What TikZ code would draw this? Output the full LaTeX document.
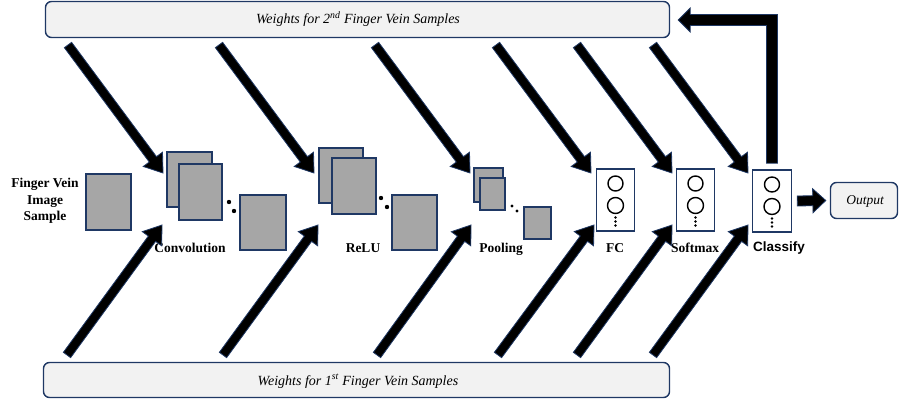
\documentclass[tikz,border=0pt]{standalone}
\usepackage{fontspec}
\setmainfont{Liberation Serif}
\newfontfamily\sansfnt{Liberation Sans}
\usetikzlibrary{calc}
\definecolor{navy}{HTML}{1F3864}
\definecolor{boxgray}{HTML}{A6A6A6}
\definecolor{wfill}{HTML}{F2F2F2}
% #1 start, #2 end, #3 half shaft, #4 half head, #5 head length
\newcommand\blockarrow[5]{%
  \coordinate (bab) at ($(#2)!#5!(#1)$);
  \filldraw[blockarr] ($(#1)!#3!90:(#2)$) -- ($(bab)!#3!90:(#2)$) -- ($(bab)!#4!90:(#2)$) -- (#2)
    -- ($(bab)!#4!-90:(#2)$) -- ($(bab)!#3!-90:(#2)$) -- ($(#1)!#3!-90:(#2)$) -- cycle;}
\begin{document}
\begin{tikzpicture}[x=1pt,y=-1pt,
  fmap/.style={draw=navy, fill=boxgray, line width=1.8pt, inner sep=0pt},
  layerbox/.style={draw=navy, fill=white, line width=1.5pt, inner sep=0pt, minimum width=38pt, minimum height=62pt},
  wbox/.style={draw=navy, fill=wfill, line width=1.4pt, rounded corners=6pt, inner sep=0pt},
  blockarr/.style={fill=black, draw=navy, line width=0.8pt, line join=miter},
  lbl/.style={font=\fontsize{13.5}{16.5}\selectfont\bfseries, anchor=base, inner sep=0pt},
  wtxt/.style={font=\fontsize{14}{16}\selectfont\itshape, anchor=base, inner sep=0pt},
  neuron/.style={draw=black, fill=white, line width=1.4pt}]
\useasboundingbox (0,0) rectangle (900,403);

% weight boxes
\node[wbox, minimum width=624pt, minimum height=36pt] (w2) at (357.5,19.5) {};
\node[wbox, minimum width=626pt, minimum height=35pt] (w1) at (356.5,380) {};
\node[wtxt] (w2t) at (358,24) {Weights for 2\textsuperscript{nd} Finger Vein Samples};
\node[wtxt] (w1t) at (358,385) {Weights for 1\textsuperscript{st} Finger Vein Samples};

% input
\node[font=\fontsize{13.5}{16.5}\selectfont\bfseries, align=center, inner sep=0pt] (inlbl) at (45,201) {Finger Vein\\Image\\Sample};
\node[fmap, minimum width=45pt, minimum height=56pt] (img) at (108.5,202) {};

% convolution
\node[fmap, minimum width=45pt, minimum height=55pt] (c1) at (189.5,179.5) {};
\node[fmap, minimum width=43pt, minimum height=56pt] (c2) at (200.5,192) {};
\node[fmap, minimum width=46pt, minimum height=55pt] (c3) at (263,222.5) {};
\fill (229,202) circle (2.2) (234,211) circle (2.2);
\node[lbl] (conv) at (190,253) {Convolution};

% relu
\node[fmap, minimum width=44pt, minimum height=55pt] (r1) at (341,175.5) {};
\node[fmap, minimum width=44pt, minimum height=56pt] (r2) at (354,186) {};
\node[fmap, minimum width=45pt, minimum height=55pt] (r3) at (414.5,222.5) {};
\fill (381,198) circle (2.2) (387,207) circle (2.2);
\node[lbl] (relu) at (363,253) {ReLU};

% pooling
\node[fmap, minimum width=29pt, minimum height=34pt] (p1) at (488.5,185) {};
\node[fmap, minimum width=25pt, minimum height=32pt] (p2) at (492.5,194) {};
\node[fmap, minimum width=27pt, minimum height=32pt] (p3) at (537.5,223) {};
\fill (512,206) circle (1.7) (517,211) circle (1.7);
\node[lbl] (pool) at (501,253) {Pooling};

% FC, softmax, classify
\node[layerbox] (fc) at (615.5,200) {};
\node[layerbox] (sm) at (695.5,200) {};
\node[layerbox, minimum width=39pt] (cl) at (772,201) {};
\foreach \b in {fc,sm,cl}{
  \draw[neuron] ($(\b)+(0,-16.5)$) circle (7.5);
  \draw[neuron] ($(\b)+(0,5.5)$) circle (8);
  \fill ($(\b)+(0,17.5)$) circle (1.3) ($(\b)+(0,21.5)$) circle (1.3) ($(\b)+(0,25.5)$) circle (1.3);
}
\node[lbl] (fcl) at (615,253) {FC};
\node[lbl] (sml) at (695,253) {Softmax};
\node[lbl, font=\fontsize{13.5}{16.5}\selectfont\sansfnt\bfseries] (cll) at (779,252) {Classify};

% output
\node[wbox, minimum width=67pt, minimum height=36pt] (out) at (864,200.5) {};
\node[wtxt, font=\fontsize{13.5}{16}\selectfont\itshape] (outt) at (865,205) {Output};

% arrow end points
\foreach \i/\sx/\ex in {1/68/163, 2/219/314, 3/375/470, 4/496/591, 5/577/672, 6/653/748}{
  \coordinate (ts\i) at (\sx,45);
  \coordinate (te\i) at (\ex,173);
}
\foreach \i/\sx/\ex in {1/67/162, 2/223/318, 3/377/471, 4/498/594, 5/577/672, 6/653/748}{
  \coordinate (bs\i) at (\sx,355);
  \coordinate (be\i) at (\ex,225);
}
\foreach \i in {1,...,6}{
  \blockarrow{ts\i}{te\i}{4.5pt}{12pt}{17pt}
  \blockarrow{bs\i}{be\i}{4.5pt}{12pt}{17pt}
}

% classify -> output
\coordinate (oas) at ($(cl.east)+(5,0)$);
\coordinate (oae) at ($(out.west)+(-4,0)$);
\blockarrow{oas}{oae}{5pt}{12pt}{13pt}

% feedback classify -> weights 2
\coordinate (fbs) at ($(cl.north)+(0,-6)$);
\coordinate (fbe) at ($(w2.east)+(8,0.5)$);
\filldraw[blockarr] ($(fbs)+(5.5,0)$) -- ($(fbs |- fbe)+(5.5,-5.5)$) -- ($(fbe)+(12,-5.5)$) -- ($(fbe)+(12,-12)$)
  -- (fbe) -- ($(fbe)+(12,12)$) -- ($(fbe)+(12,5.5)$) -- ($(fbs |- fbe)+(-5.5,5.5)$) -- ($(fbs)+(-5.5,0)$) -- cycle;
\end{tikzpicture}
\end{document}
